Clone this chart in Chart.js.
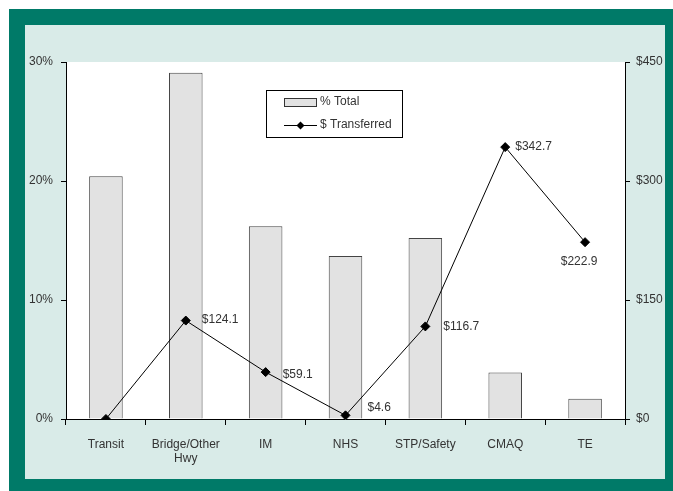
<!DOCTYPE html>
<html><head><meta charset="utf-8">
<script src="https://cdn.jsdelivr.net/npm/chart.js@4/dist/chart.umd.min.js"></script>
<style>html,body{margin:0;padding:0;background:#fff}#wrap{width:673px;height:491px;position:relative}</style>
</head><body><div id="wrap"><canvas id="c" width="673" height="491"></canvas></div>
<script>
const categories = ['Transit', ['Bridge/Other', 'Hwy'], 'IM', 'NHS', 'STP/Safety', 'CMAQ', 'TE'];
const pctTotal = [20.4, 29.1, 16.2, 13.7, 15.2, 3.9, 1.7];
const dollarsTransferred = [0, 124.1, 59.1, 4.6, 116.7, 342.7, 222.9];
const dollarLabels = ['', '$124.1', '$59.1', '$4.6', '$116.7', '$342.7', '$222.9'];
const leftTicks = [0, 10, 20, 30];
const rightTicks = [0, 150, 300, 450];

const FONT = 'Liberation Sans, Arial, sans-serif';
const TXT = '#333';

const labelOffsets = [[0,0],[16,-1],[17,3],[22,-8],[18,0],[10,0],[-6,20]];

const bgPlugin = {
  id: 'bg',
  beforeDraw(chart) {
    const c = chart.ctx;
    c.save();
    c.fillStyle = '#fff'; c.fillRect(0,0,673,491);
    c.fillStyle = '#007a68'; c.fillRect(9,9,664,482);
    c.fillStyle = '#d9ebe8'; c.fillRect(25,25,640,454);
    const a = chart.chartArea;
    c.fillStyle = '#fff'; c.fillRect(a.left, a.top, a.right-a.left, a.bottom-a.top);
    c.restore();
  },
  afterDraw(chart) {
    const c = chart.ctx;
    const a = chart.chartArea;
    c.save();
    // frame lines: left, right, bottom
    c.strokeStyle = '#000'; c.lineWidth = 1;
    c.beginPath();
    c.moveTo(a.left+0.5, a.top); c.lineTo(a.left+0.5, a.bottom);
    c.moveTo(a.right+0.5, a.top); c.lineTo(a.right+0.5, a.bottom);
    c.moveTo(a.left-5, a.bottom+0.5); c.lineTo(a.right+5, a.bottom+0.5);
    c.stroke();
    // data labels
    const meta = chart.getDatasetMeta(1);
    c.fillStyle = TXT;
    c.font = '12px ' + FONT;
    c.textBaseline = 'middle';
    meta.data.forEach((p, i) => {
      const t = dollarLabels[i];
      if (!t) return;
      const o = labelOffsets[i];
      c.textAlign = o[0] < 0 ? 'center' : 'left';
      c.fillText(t, p.x + o[0], p.y + o[1]);
    });
    // legend
    const lx = 266, ly = 90;
    c.fillStyle = '#fff';
    c.fillRect(lx, ly, 136, 47);
    c.strokeStyle = '#000';
    c.strokeRect(lx+0.5, ly+0.5, 136, 47);
    c.fillStyle = '#e2e2e2';
    c.fillRect(284, 98, 32, 8);
    c.strokeStyle = '#333';
    c.strokeRect(284.5, 98.5, 32, 8);
    c.strokeStyle = '#000';
    c.beginPath(); c.moveTo(284, 125.5); c.lineTo(317, 125.5); c.stroke();
    c.fillStyle = '#000';
    c.beginPath(); c.moveTo(300.5,121.5); c.lineTo(304.5,125.5); c.lineTo(300.5,129.5); c.lineTo(296.5,125.5); c.closePath(); c.fill();
    c.fillStyle = TXT;
    c.textAlign = 'left';
    c.fillText(chart.data.datasets[0].label, 320, 102);
    c.fillText(chart.data.datasets[1].label, 320, 125);
    c.restore();
  }
};

new Chart(document.getElementById('c'), {
  data: {
    labels: categories,
    datasets: [
      { type: 'bar', label: '% Total', data: pctTotal, yAxisID: 'y',
        backgroundColor: '#e2e2e2', borderColor: '#444', borderWidth: 1,
        barPercentage: 0.42, categoryPercentage: 1, order: 2 },
      { type: 'line', label: '$ Transferred', data: dollarsTransferred, yAxisID: 'y2',
        borderColor: '#000', borderWidth: 1, pointStyle: 'rectRot', pointRadius: 4.5,
        pointBackgroundColor: '#000', pointBorderColor: '#000', tension: 0, order: 1 }
    ]
  },
  options: {
    responsive: false, animation: false,
    layout: { padding: { top: 62, left: 0, right: 0, bottom: 0 } },
    plugins: { legend: { display: false }, tooltip: { enabled: false } },
    scales: {
      x: {
        offset: true,
        grid: { display: true, offset: true, drawOnChartArea: false, drawTicks: true, tickLength: 6, color: '#000', tickColor: '#000' },
        border: { display: false },
        ticks: { color: TXT, font: { family: FONT, size: 12 }, padding: 12, maxRotation: 0, autoSkip: false },
        afterFit(s) { s.height = 72; }
      },
      y: {
        position: 'left', min: 0, max: 30,
        afterBuildTicks(s) { s.ticks = leftTicks.map(v => ({ value: v })); },
        grid: { drawOnChartArea: false, tickLength: 5, color: '#000', tickColor: '#000' },
        border: { display: false },
        ticks: { color: TXT, font: { family: FONT, size: 12 }, padding: 8, callback: v => v + '%' },
        afterFit(s) { s.width = 66; }
      },
      y2: {
        position: 'right', min: 0, max: 450,
        afterBuildTicks(s) { s.ticks = rightTicks.map(v => ({ value: v })); },
        grid: { drawOnChartArea: false, tickLength: 5, color: '#000', tickColor: '#000' },
        border: { display: false },
        ticks: { color: TXT, font: { family: FONT, size: 12 }, padding: 6, callback: v => '$' + v },
        afterFit(s) { s.width = 48; }
      }
    }
  },
  plugins: [bgPlugin]
});
</script></body></html>
